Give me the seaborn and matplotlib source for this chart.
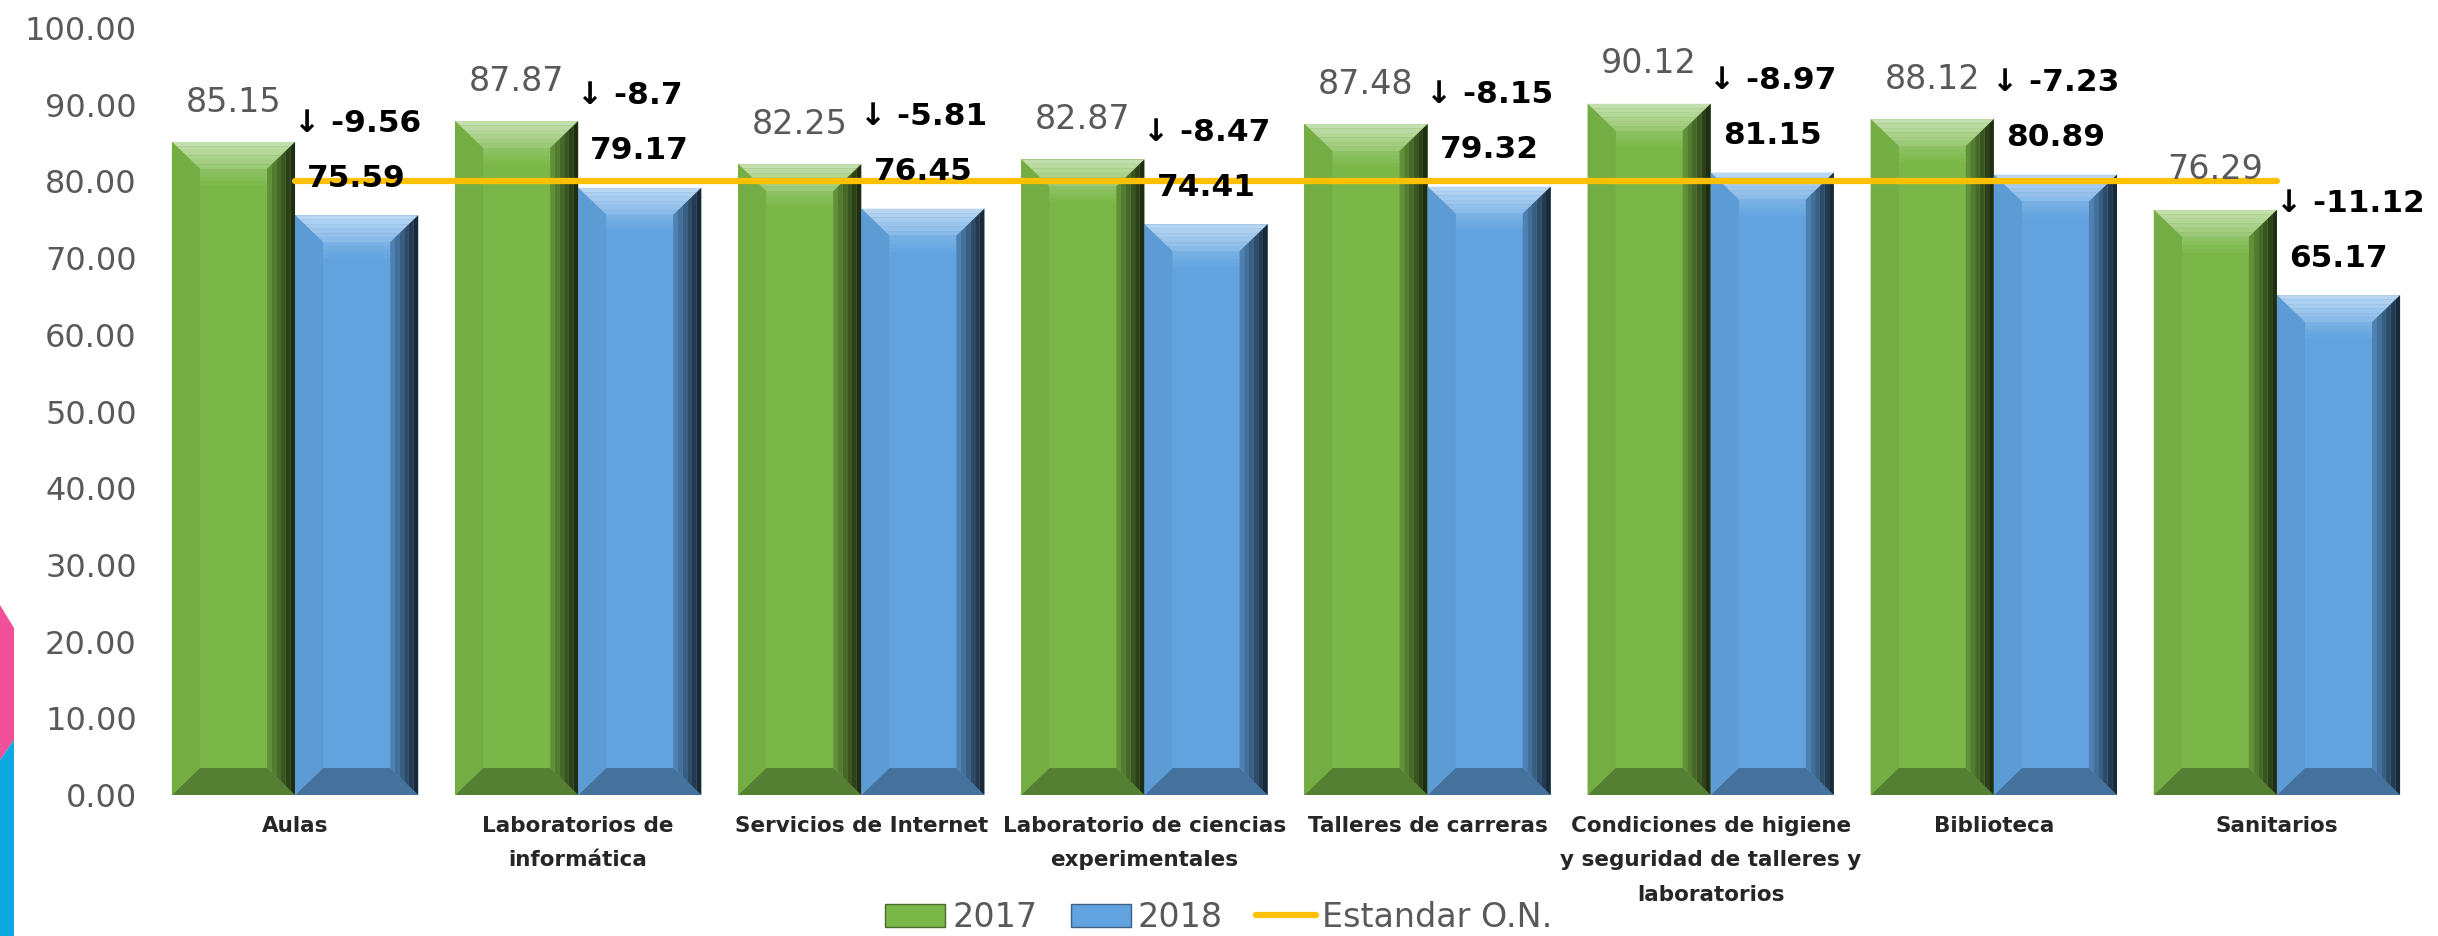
import matplotlib
matplotlib.use('Agg')
import numpy as np
import pandas as pd
import matplotlib.pyplot as plt
import matplotlib.colors as mcolors
from matplotlib.patches import Polygon, Patch
from matplotlib.lines import Line2D
from matplotlib.ticker import FormatStrFormatter
import seaborn as sns

# datos
categorias = ['Aulas', 'Laboratorios de\ninformática', 'Servicios de Internet',
              'Laboratorio de ciencias\nexperimentales', 'Talleres de carreras',
              'Condiciones de higiene\ny seguridad de talleres y\nlaboratorios',
              'Biblioteca', 'Sanitarios']
valores_2017 = [85.15, 87.87, 82.25, 82.87, 87.48, 90.12, 88.12, 76.29]
valores_2018 = [75.59, 79.17, 76.45, 74.41, 79.32, 81.15, 80.89, 65.17]
diferencias = ['-9.56', '-8.7', '-5.81', '-8.47', '-8.15', '-8.97', '-7.23', '-11.12']
estandar = [80, 80, 80, 80, 80, 80, 80, 80]
yticks = [0, 10, 20, 30, 40, 50, 60, 70, 80, 90, 100]

verde = '#7AB648'
azul = '#62A3DF'
naranja = '#FFC000'
gris = '#595959'


def mezcla(color, f):
    # f > 0 aclara hacia blanco, f < 0 oscurece hacia negro
    c = np.array(mcolors.to_rgb(color))
    if f >= 0:
        return tuple(c + (1 - c) * f)
    return tuple(c * (1 + f))


def bisel(ax, bar, color, bx=28, by=27, n=6):
    # simula el efecto biselado de Excel sobre cada barra
    inv = ax.transData.inverted()
    (x0, y0), (x1, y1) = ax.transData.transform(
        [(bar.get_x(), 0), (bar.get_x() + bar.get_width(), bar.get_height())])

    def poly(pts, c):
        ax.add_patch(Polygon(inv.transform(pts), closed=True, facecolor=c,
                             edgecolor='none', zorder=2.5))

    # brillo suave bajo el bisel superior
    for k in range(4):
        poly([(x0 + bx, y1 - by - 4 * k), (x1 - bx, y1 - by - 4 * k),
              (x1 - bx, y1 - by - 4 * (k + 1)), (x0 + bx, y1 - by - 4 * (k + 1))],
             mezcla(color, 0.14 - 0.035 * k))
    # borde superior claro
    for k in range(n):
        f0, f1 = k / n, (k + 1) / n
        pts = [(x0 + bx * (1 - f0), y1 - by * (1 - f0)), (x1 - bx * (1 - f0), y1 - by * (1 - f0)),
               (x1 - bx * (1 - f1), y1 - by * (1 - f1)), (x0 + bx * (1 - f1), y1 - by * (1 - f1))]
        poly(pts, mezcla(color, 0.2 + 0.35 * f1))
    # borde inferior oscuro
    poly([(x0, y0), (x1, y0), (x1 - bx, y0 + by), (x0 + bx, y0 + by)], mezcla(color, -0.3))
    # borde izquierdo
    poly([(x0, y1), (x0 + bx, y1 - by), (x0 + bx, y0 + by), (x0, y0)], mezcla(color, -0.05))
    # borde derecho en degradado
    for k in range(n):
        f0, f1 = k / n, (k + 1) / n
        pts = [(x1 - bx + bx * f0, y1 - by + by * f0), (x1 - bx + bx * f1, y1 - by + by * f1),
               (x1 - bx + bx * f1, y0 + by - by * f1), (x1 - bx + bx * f0, y0 + by - by * f0)]
        poly(pts, mezcla(color, -0.1 - 0.65 * f1))


def main():
    sns.set_style('white')
    plt.rcParams['font.family'] = ['DejaVu Sans']

    df = pd.DataFrame({
        'categoria': categorias * 2,
        'valor': valores_2017 + valores_2018,
        'anio': ['2017'] * len(categorias) + ['2018'] * len(categorias),
    })

    fig = plt.figure(figsize=(24.38, 9.36), dpi=100)
    ax = fig.add_axes([153.5 / 2438, 141 / 936, 2265 / 2438, 767 / 936])

    sns.barplot(data=df, x='categoria', y='valor', hue='anio', palette=[verde, azul],
                width=0.87, saturation=1, legend=False, ax=ax, linewidth=0, zorder=2)
    ax.set_xlim(-0.5, len(categorias) - 0.5)
    ax.set_ylim(0, 100)

    for bar in ax.containers[0]:
        bisel(ax, bar, verde)
    for bar in ax.containers[1]:
        bisel(ax, bar, azul)

    ax.plot(range(len(categorias)), estandar, color=naranja, lw=4.5,
            solid_capstyle='round', zorder=3)

    for i, bar in enumerate(ax.containers[0]):
        ax.text(bar.get_x() + bar.get_width() / 2, valores_2017[i] + 5.2, f'{valores_2017[i]:.2f}',
                ha='center', va='center', fontsize=24, color=gris, zorder=5)
    for i, bar in enumerate(ax.containers[1]):
        ax.text(bar.get_x() + bar.get_width() / 2, valores_2018[i] + 4.8, f'{valores_2018[i]:.2f}',
                ha='center', va='center', fontsize=22.5, fontweight='bold', color='black', zorder=5)
        ax.text(bar.get_x() - 0.005, valores_2018[i] + 12, '\u2193 ' + diferencias[i],
                ha='left', va='center', fontsize=22.5, fontweight='bold', color='black', zorder=5)

    ax.set_yticks(yticks)
    ax.yaxis.set_major_formatter(FormatStrFormatter('%.2f'))
    ax.tick_params(axis='y', length=0, pad=12, labelsize=23, labelcolor=gris)
    ax.tick_params(axis='x', length=0, pad=15, labelsize=15.5)
    for lab in ax.get_xticklabels():
        lab.set_fontweight('bold')
        lab.set_linespacing(1.9)
        lab.set_verticalalignment('top')
    ax.set_xlabel('')
    ax.set_ylabel('')
    sns.despine(ax=ax, left=True, bottom=True)
    ax.grid(False)

    handles = [Patch(facecolor=verde, edgecolor=mezcla(verde, -0.4), label='2017'),
               Patch(facecolor=azul, edgecolor=mezcla(azul, -0.4), label='2018'),
               Line2D([0], [0], color=naranja, lw=4.5, label='Estandar O.N.')]
    fig.legend(handles=handles, loc='lower center', bbox_to_anchor=(0.5, -0.03), ncol=3,
               frameon=False, fontsize=24, labelcolor=gris, handlelength=1.8,
               handleheight=0.7, handletextpad=0.2, columnspacing=1.0)

    # recorte decorativo del borde izquierdo de la diapositiva
    w, h = 2438, 936
    rosa = [(0, 605), (14, 628), (14, 740), (0, 760)]
    cian = [(0, 760), (14, 740), (14, 936), (0, 936)]
    for pts, c in ((rosa, '#F0509A'), (cian, '#0EA8E0')):
        fig.patches.append(Polygon([(x / w, 1 - y / h) for x, y in pts], closed=True,
                                   transform=fig.transFigure, facecolor=c, edgecolor='none'))

    fig.savefig('out.png', dpi=100)


if __name__ == '__main__':
    main()
